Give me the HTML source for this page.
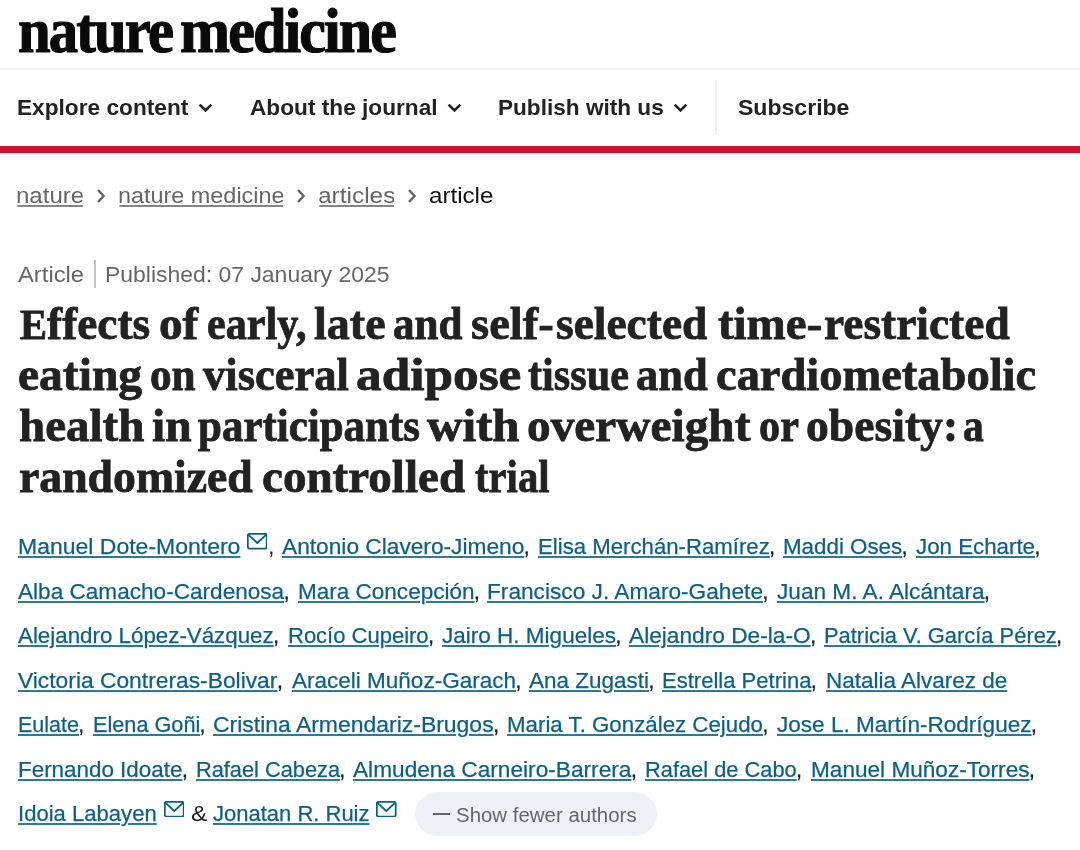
<!DOCTYPE html>
<html lang="en">
<head>
<meta charset="utf-8">
<title>Effects of early, late and self-selected time-restricted eating | Nature Medicine</title>
<style>
*{box-sizing:border-box;margin:0;padding:0}
html,body{width:1080px;height:850px;overflow:hidden;background:#fff}
body{position:relative;font-family:"Liberation Sans",sans-serif;color:#222}
.abs{position:absolute;white-space:nowrap;transform-origin:0 0;display:block}
.f1{font-family:'Liberation Serif',serif;font-size:64px;line-height:80px;color:#0a0a0a;font-weight:bold;letter-spacing:-2px;-webkit-text-stroke-width:1.2px}
.f2{font-family:'Liberation Sans',sans-serif;font-size:22px;line-height:28px;color:#222;font-weight:bold}
.f3{font-family:'Liberation Sans',sans-serif;font-size:21.5px;line-height:27px;color:#666}
.f4{font-family:'Liberation Sans',sans-serif;font-size:21.5px;line-height:27px;color:#111}
.f5{font-family:'Liberation Sans',sans-serif;font-size:19.5px;line-height:24px;color:#666}
.f6{font-family:'Liberation Serif',serif;font-size:47px;line-height:59px;color:#222;font-weight:bold;-webkit-text-stroke-width:0.8px}
.f7{font-family:'Liberation Sans',sans-serif;font-size:22px;line-height:28px;color:#222;-webkit-text-stroke-width:0.25px}
.f8{font-family:'Liberation Sans',sans-serif;font-size:22px;line-height:28px;color:#222}
h1{font-size:inherit;font-weight:inherit}
u{display:inline-block;clip-path:inset(0 1.2px);text-decoration-thickness:2px;text-underline-offset:2px;text-decoration-color:rgba(102,102,102,.8)}
.au a{color:#0a5f8c;text-decoration:underline;text-decoration-thickness:2px;text-underline-offset:2px;text-decoration-color:rgba(10,95,140,.85);margin-right:-0.7px}
</style>
</head>
<body>

<div class="abs" style="left:0;top:68px;width:1080px;height:2px;background:#f3f3f3"></div>
<div class="abs" style="left:714.5px;top:80px;width:2px;height:55px;background:#efefef"></div>
<div class="abs" style="left:0;top:145.7px;width:1080px;height:7.6px;background:#d0122f"></div>
<div class="abs" style="left:94px;top:260px;width:1.5px;height:28px;background:#c2c2c2"></div>
<div class="abs" style="left:414.5px;top:792px;width:242px;height:44px;border-radius:22px;background:#eef2f6"></div>
<div class="abs" style="left:433px;top:812.75px;width:17px;height:2px;background:#666"></div>
<svg class="abs" style="left:198.4px;top:103.3px" width="15" height="10" viewBox="0 0 15 10" fill="none" stroke="#222" stroke-width="2.6" stroke-linecap="butt" stroke-linejoin="miter"><path d="M1.6 1.6 L7.5 7.4 L13.4 1.6"/></svg>
<svg class="abs" style="left:447.4px;top:103.3px" width="15" height="10" viewBox="0 0 15 10" fill="none" stroke="#222" stroke-width="2.6" stroke-linecap="butt" stroke-linejoin="miter"><path d="M1.6 1.6 L7.5 7.4 L13.4 1.6"/></svg>
<svg class="abs" style="left:673px;top:103.3px" width="15" height="10" viewBox="0 0 15 10" fill="none" stroke="#222" stroke-width="2.6" stroke-linecap="butt" stroke-linejoin="miter"><path d="M1.6 1.6 L7.5 7.4 L13.4 1.6"/></svg>
<svg class="abs" style="left:96px;top:189.3px" width="10" height="14" viewBox="0 0 10 14" fill="none" stroke="#666" stroke-width="2.4" stroke-linecap="butt" stroke-linejoin="miter"><path d="M2 1.2 L7.6 7 L2 12.8"/></svg>
<svg class="abs" style="left:296px;top:189.3px" width="10" height="14" viewBox="0 0 10 14" fill="none" stroke="#666" stroke-width="2.4" stroke-linecap="butt" stroke-linejoin="miter"><path d="M2 1.2 L7.6 7 L2 12.8"/></svg>
<svg class="abs" style="left:407px;top:189.3px" width="10" height="14" viewBox="0 0 10 14" fill="none" stroke="#666" stroke-width="2.4" stroke-linecap="butt" stroke-linejoin="miter"><path d="M2 1.2 L7.6 7 L2 12.8"/></svg>
<svg class="abs" style="left:246.5px;top:533.2px" width="20.5" height="16.5" viewBox="0 0 20.5 16.5" fill="none" stroke="#0a5f8c" stroke-width="1.8" stroke-linejoin="round" stroke-linecap="round"><rect x="0.8" y="0.8" width="18.9" height="14.9" rx="2"/><path d="M1.2 1.6 L10.25 10 L19.3 1.6"/></svg>
<svg class="abs" style="left:163.75px;top:800.5px" width="20.5" height="16.5" viewBox="0 0 20.5 16.5" fill="none" stroke="#0a5f8c" stroke-width="1.8" stroke-linejoin="round" stroke-linecap="round"><rect x="0.8" y="0.8" width="18.9" height="14.9" rx="2"/><path d="M1.2 1.6 L10.25 10 L19.3 1.6"/></svg>
<svg class="abs" style="left:376px;top:800.5px" width="20.5" height="16.5" viewBox="0 0 20.5 16.5" fill="none" stroke="#0a5f8c" stroke-width="1.8" stroke-linejoin="round" stroke-linecap="round"><rect x="0.8" y="0.8" width="18.9" height="14.9" rx="2"/><path d="M1.2 1.6 L10.25 10 L19.3 1.6"/></svg>
<header>
<span id="lg1" class="abs f1" style="left:17.87px;top:-9.10px;transform:scaleX(0.9169)">nature</span>
<span id="lg2" class="abs f1" style="left:180.25px;top:-9.10px;transform:scaleX(0.9383)">medicine</span>
</header>
<nav aria-label="Main">
<span id="nv1" class="abs f2" style="left:17.10px;top:94.13px;transform:scaleX(1.0303)">Explore content</span>
<span id="nv2" class="abs f2" style="left:250.39px;top:94.13px;transform:scaleX(1.0301)">About the journal</span>
<span id="nv3" class="abs f2" style="left:498.33px;top:94.13px;transform:scaleX(1.0271)">Publish with us</span>
<span id="nv4" class="abs f2" style="left:737.73px;top:94.13px;transform:scaleX(1.0477)">Subscribe</span>
</nav>
<nav aria-label="Breadcrumb">
<span id="bc1" class="abs f3" style="left:16.26px;top:182.75px;transform:scaleX(1.1183)"><u>nature</u></span>
<span id="bc2" class="abs f3" style="left:118.08px;top:182.75px;transform:scaleX(1.0885)"><u>nature medicine</u></span>
<span id="bc3" class="abs f3" style="left:317.73px;top:182.75px;transform:scaleX(1.1368)"><u>articles</u></span>
<span id="bc4" class="abs f4" style="left:429.45px;top:182.75px;transform:scaleX(1.1226)">article</span>
</nav>
<section>
<span id="mt1" class="abs f3" style="left:18.07px;top:261.80px;transform:scaleX(1.1067)">Article</span>
<span id="mt2" class="abs f3" style="left:105.13px;top:261.80px;transform:scaleX(1.0670)">Published: 07 January 2025</span>
</section>
<div id="btx" class="abs f5" style="left:456.42px;top:803.24px;transform:scaleX(1.0481)">Show fewer authors</div>
<h1>
<span id="h0_0" class="abs f6" style="left:19.88px;top:294.09px;transform:scaleX(0.9647)"><span style="font-size:42px">E</span>ffects</span>
<span id="h0_1" class="abs f6" style="left:159.27px;top:294.09px;transform:scaleX(1.0052)">of</span>
<span id="h0_2" class="abs f6" style="left:207.47px;top:294.09px;transform:scaleX(0.8984)">early,</span>
<span id="h0_3" class="abs f6" style="left:314.06px;top:294.09px;transform:scaleX(0.9798)">late</span>
<span id="h0_4" class="abs f6" style="left:392.92px;top:294.09px;transform:scaleX(0.9173)">and</span>
<span id="h0_5" class="abs f6" style="left:471.28px;top:294.09px;transform:scaleX(0.9926)">self-</span><span id="h0_6" class="abs f6" style="left:555.82px;top:294.09px;transform:scaleX(0.9665)">selected</span>
<span id="h0_7" class="abs f6" style="left:717.90px;top:294.09px;transform:scaleX(1.0000)">time-</span><span id="h0_8" class="abs f6" style="left:824.30px;top:294.09px;transform:scaleX(0.9655)">restricted</span>
<span id="h1_0" class="abs f6" style="left:17.57px;top:345.09px;transform:scaleX(1.0115)">eating</span>
<span id="h1_1" class="abs f6" style="left:149.78px;top:345.09px;transform:scaleX(0.9202)">on</span>
<span id="h1_2" class="abs f6" style="left:203.12px;top:345.09px;transform:scaleX(0.9481)">visceral</span>
<span id="h1_3" class="abs f6" style="left:355.70px;top:345.09px;transform:scaleX(1.0916)">adipose</span>
<span id="h1_4" class="abs f6" style="left:527.79px;top:345.09px;transform:scaleX(0.8984)">tissue</span>
<span id="h1_5" class="abs f6" style="left:635.78px;top:345.09px;transform:scaleX(0.9453)">and</span>
<span id="h1_6" class="abs f6" style="left:715.54px;top:345.09px;transform:scaleX(0.9889)">cardiometabolic</span>
<span id="h2_0" class="abs f6" style="left:19.28px;top:396.09px;transform:scaleX(1.0006)">health</span>
<span id="h2_1" class="abs f6" style="left:152.15px;top:396.09px;transform:scaleX(1.0099)">in</span>
<span id="h2_2" class="abs f6" style="left:197.96px;top:396.09px;transform:scaleX(0.9143)">participants</span>
<span id="h2_3" class="abs f6" style="left:426.99px;top:396.09px;transform:scaleX(1.0429)">with</span>
<span id="h2_4" class="abs f6" style="left:527.30px;top:396.09px;transform:scaleX(1.0071)">overweight</span>
<span id="h2_5" class="abs f6" style="left:759.15px;top:396.09px;transform:scaleX(0.9001)">or</span>
<span id="h2_6" class="abs f6" style="left:805.81px;top:396.09px;transform:scaleX(0.9712)">obesity:</span>
<span id="h2_7" class="abs f6" style="left:962.55px;top:396.09px;transform:scaleX(0.8843)">a</span>
<span id="h3_0" class="abs f6" style="left:19.19px;top:446.84px;transform:scaleX(0.9732)">randomized</span>
<span id="h3_1" class="abs f6" style="left:262.09px;top:446.84px;transform:scaleX(1.0014)">controlled</span>
<span id="h3_2" class="abs f6" style="left:474.62px;top:446.84px;transform:scaleX(0.8655)">trial</span>
</h1>
<p>
<span id="a0_0" class="abs f7 au" style="left:18.30px;top:533.08px;transform:scaleX(1.0452)"><a>Manuel Dote-Montero</a></span>
<span id="a0_1" class="abs f7 au" style="left:281.71px;top:533.08px;transform:scaleX(1.0320)"><a>Antonio Clavero-Jimeno</a>,</span>
<span id="a0_2" class="abs f7 au" style="left:537.50px;top:533.08px;transform:scaleX(1.0085)"><a>Elisa Merchán-Ramírez</a>,</span>
<span id="a0_3" class="abs f7 au" style="left:783.30px;top:533.08px;transform:scaleX(1.0154)"><a>Maddi Oses</a>,</span>
<span id="a0_4" class="abs f7 au" style="left:915.50px;top:533.08px;transform:scaleX(1.0136)"><a>Jon Echarte</a>,</span>
<span id="a1_0" class="abs f7 au" style="left:18.32px;top:577.58px;transform:scaleX(1.0267)"><a>Alba Camacho-Cardenosa</a>,</span>
<span id="a1_1" class="abs f7 au" style="left:297.50px;top:577.58px;transform:scaleX(1.0236)"><a>Mara Concepción</a>,</span>
<span id="a1_2" class="abs f7 au" style="left:487.30px;top:577.58px;transform:scaleX(1.0307)"><a>Francisco J. Amaro-Gahete</a>,</span>
<span id="a1_3" class="abs f7 au" style="left:776.71px;top:577.58px;transform:scaleX(1.0286)"><a>Juan M. A. Alcántara</a>,</span>
<span id="a2_0" class="abs f7 au" style="left:18.30px;top:622.08px;transform:scaleX(1.0149)"><a>Alejandro López-Vázquez</a>,</span>
<span id="a2_1" class="abs f7 au" style="left:287.71px;top:622.08px;transform:scaleX(0.9997)"><a>Rocío Cupeiro</a>,</span>
<span id="a2_2" class="abs f7 au" style="left:441.71px;top:622.08px;transform:scaleX(1.0238)"><a>Jairo H. Migueles</a>,</span>
<span id="a2_3" class="abs f7 au" style="left:629.00px;top:622.08px;transform:scaleX(1.0319)"><a>Alejandro De-la-O</a>,</span>
<span id="a2_4" class="abs f7 au" style="left:824.21px;top:622.08px;transform:scaleX(0.9950)"><a>Patricia V. García Pérez</a>,</span>
<span id="a3_0" class="abs f7 au" style="left:18.30px;top:666.58px;transform:scaleX(1.0366)"><a>Victoria Contreras-Bolivar</a>,</span>
<span id="a3_1" class="abs f7 au" style="left:291.71px;top:666.58px;transform:scaleX(1.0234)"><a>Araceli Muñoz-Garach</a>,</span>
<span id="a3_2" class="abs f7 au" style="left:529.30px;top:666.58px;transform:scaleX(1.0221)"><a>Ana Zugasti</a>,</span>
<span id="a3_3" class="abs f7 au" style="left:662.30px;top:666.58px;transform:scaleX(1.0014)"><a>Estrella Petrina</a>,</span>
<span id="a3_4" class="abs f7 au" style="left:826.21px;top:666.58px;transform:scaleX(1.0224)"><a>Natalia Alvarez de</a></span>
<span id="a4_0" class="abs f7 au" style="left:18.30px;top:711.08px;transform:scaleX(0.9777)"><a>Eulate</a>,</span>
<span id="a4_1" class="abs f7 au" style="left:92.71px;top:711.08px;transform:scaleX(0.9856)"><a>Elena Goñi</a>,</span>
<span id="a4_2" class="abs f7 au" style="left:212.71px;top:711.08px;transform:scaleX(1.0432)"><a>Cristina Armendariz-Brugos</a>,</span>
<span id="a4_3" class="abs f7 au" style="left:506.71px;top:711.08px;transform:scaleX(1.0129)"><a>Maria T. González Cejudo</a>,</span>
<span id="a4_4" class="abs f7 au" style="left:776.71px;top:711.08px;transform:scaleX(1.0254)"><a>Jose L. Martín-Rodríguez</a>,</span>
<span id="a5_0" class="abs f7 au" style="left:18.30px;top:755.58px;transform:scaleX(1.0182)"><a>Fernando Idoate</a>,</span>
<span id="a5_1" class="abs f7 au" style="left:196.00px;top:755.58px;transform:scaleX(0.9894)"><a>Rafael Cabeza</a>,</span>
<span id="a5_2" class="abs f7 au" style="left:353.30px;top:755.58px;transform:scaleX(1.0302)"><a>Almudena Carneiro-Barrera</a>,</span>
<span id="a5_3" class="abs f7 au" style="left:645.00px;top:755.58px;transform:scaleX(0.9922)"><a>Rafael de Cabo</a>,</span>
<span id="a5_4" class="abs f7 au" style="left:811.00px;top:755.58px;transform:scaleX(1.0270)"><a>Manuel Muñoz-Torres</a>,</span>
<span id="a6_0" class="abs f7 au" style="left:18.30px;top:800.08px;transform:scaleX(1.0034)"><a>Idoia Labayen</a></span>
<span id="a6_1" class="abs f7 au" style="left:213.00px;top:800.08px;transform:scaleX(0.9998)"><a>Jonatan R. Ruiz</a></span>
<span id="a0c" class="abs f8 au" style="left:268.20px;top:533.08px;transform:scaleX(1.0000)">,</span>
<span id="a6amp" class="abs f8 au" style="left:191.16px;top:800.08px;transform:scaleX(1.1098)">&amp;</span>
</p>
</body>
</html>
